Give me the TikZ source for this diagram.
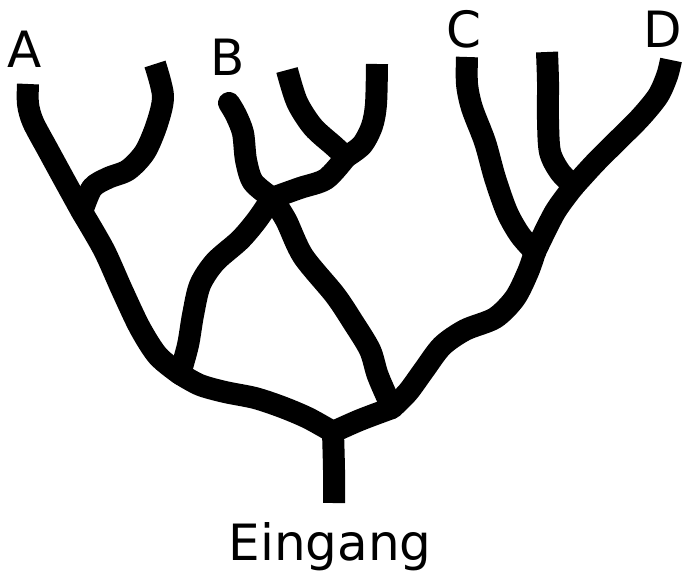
\documentclass[tikz,border=0pt]{standalone}
\usepackage{fontspec}
\setmainfont{DejaVu Sans}
\usetikzlibrary{positioning}

\begin{document}
\begin{tikzpicture}[x=1pt, y=-1pt,
  way/.style={line width=22pt, line join=round},
  lbl/.style={anchor=base, inner sep=0pt, font=\fontsize{50}{60}\selectfont}]
\useasboundingbox (0,0) rectangle (685,573);
% junctions
\coordinate (j0) at (333,432);
\coordinate (jl) at (180,374);
\coordinate (jr) at (392,408);
\coordinate (ja) at (82,212);
\coordinate (x) at (272,198);
\coordinate (jb) at (346,157);
\coordinate (jc) at (535,252);
\coordinate (jd) at (574,186);
% free ends
\coordinate (ein) at (334,503);
\coordinate (ea) at (28,84);
\coordinate (ea2) at (155,64);
\coordinate (eb1) at (229,103);
\coordinate (eb2) at (287,70);
\coordinate (eb3) at (377,64);
\coordinate (ec) at (467,57);
\coordinate (ed1) at (547,52);
\coordinate (ed2) at (671,60);
% labels
\node[lbl] (la) at (25,67) {A};
\node[lbl] (lb) at (228,75) {B};
\node[lbl] (lc) at (464,47) {C};
\node[lbl] (ld) at (663,47) {D};
\node[lbl] (lein) at (330,560) {Eingang};
% ways
\draw[way] plot[smooth] coordinates {(ein) (334,470) (j0)};
\draw[way] plot[smooth] coordinates {(j0) (308,418) (282,407) (255,398) (225,392) (200,385) (jl)};
\draw[way] plot[smooth] coordinates {(j0) (360,420) (jr)};
\draw[way] plot[smooth] coordinates {(jl) (158,356) (140,328) (122,290) (104,250) (ja)};
\draw[way] plot[smooth] coordinates {(ja) (66,183) (48,150) (33,122) (28,104) (ea)};
\draw[way] plot[smooth] coordinates {(ja) (92,188) (108,178) (128,170) (145,152) (157,124) (163,96) (ea2)};
\draw[way] plot[smooth] coordinates {(jl) (188,345) (193,315) (200,285) (215,262) (240,240) (257,220) (x)};
\draw[way, line cap=round] plot[smooth] coordinates {(x) (253,182) (246,160) (243,133) (236,115) (eb1)};
\draw[way] plot[smooth] coordinates {(x) (286,220) (303,256) (335,295) (353,322) (370,350) (378,376) (jr)};
\draw[way] plot[smooth] coordinates {(x) (300,188) (326,179) (jb)};
\draw[way] plot[smooth] coordinates {(jb) (334,146) (313,127) (297,102) (eb2)};
\draw[way] plot[smooth] coordinates {(jb) (362,145) (372,126) (376,104) (eb3)};
\draw[way] plot[smooth] coordinates {(jr) (408,392) (424,370) (442,346) (465,330) (495,318) (515,298) (528,272) (jc)};
\draw[way] plot[smooth] coordinates {(jc) (520,235) (507,212) (495,178) (485,142) (472,108) (467,84) (ec)};
\draw[way] plot[smooth] coordinates {(jc) (555,212) (jd)};
\draw[way] plot[smooth] coordinates {(jd) (560,172) (550,152) (548,120) (548,82) (ed1)};
\draw[way] plot[smooth] coordinates {(jd) (595,163) (616,142) (640,118) (658,96) (667,76) (ed2)};
\foreach \j in {j0,jl,jr,ja,x,jb,jc,jd}
  \fill (\j) circle (11pt);
\end{tikzpicture}
\end{document}
